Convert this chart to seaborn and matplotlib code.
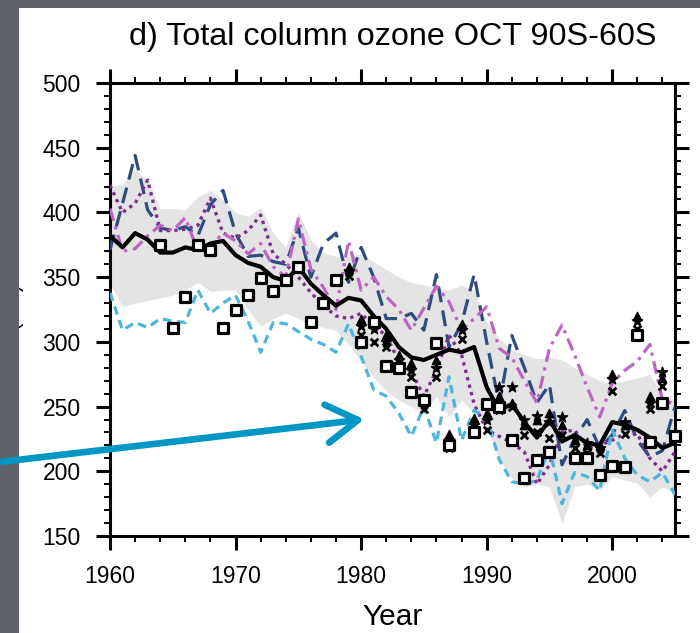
import numpy as np
import pandas as pd
import matplotlib
matplotlib.use("Agg")
import matplotlib.pyplot as plt
import seaborn as sns
from matplotlib.patches import Rectangle, FancyArrowPatch
from matplotlib.ticker import MultipleLocator

# ---------------- data ----------------
years = list(range(1960, 2006))

mean_line = [382, 373, 384, 379, 369, 369, 373, 371, 376, 378,
             367, 361, 358, 350, 347, 358, 345, 336, 328, 334,
             332, 320, 310, 296, 288, 286, 290, 294, 292, 296,
             265, 247, 252, 238, 226, 240, 223, 228, 222, 220,
             238, 236, 232, 226, 218, 222]

band_upper = [420, 422, 433, 425, 403, 403, 402, 412, 417, 410,
              400, 397, 404, 384, 373, 400, 379, 369, 366, 366,
              368, 362, 356, 350, 346, 344, 342, 340, 344, 340,
              315, 303, 294, 290, 287, 288, 286, 280, 275, 270,
              268, 270, 272, 275, 258, 255]

band_lower = [345, 327, 330, 332, 334, 336, 340, 346, 339, 340,
              340, 325, 312, 318, 322, 318, 314, 311, 309, 298,
              285, 273, 262, 255, 250, 245, 258, 242, 255, 245,
              234, 209, 195, 188, 190, 188, 160, 188, 190, 186,
              196, 193, 191, 180, 188, 183]

model_navy = [371, 407, 444, 402, 388, 386, 389, 382, 406, 417,
              384, 366, 367, 362, 360, 388, 350, 376, 384, 346,
              373, 350, 318, 318, 322, 309, 352, 296, 314, 352,
              300, 252, 305, 280, 253, 267, 205, 225, 240, 218,
              228, 247, 224, 211, 216, 250]

model_purple = [421, 400, 407, 425, 386, 386, 387, 390, 411, 384,
                380, 386, 398, 368, 360, 350, 338, 328, 320, 318,
                322, 312, 305, 285, 277, 258, 278, 305, 290, 252,
                232, 227, 222, 215, 190, 205, 230, 232, 218, 220,
                224, 229, 229, 210, 200, 215]

model_orchid = [403, 370, 372, 382, 390, 386, 396, 370, 374, 384,
                378, 368, 376, 358, 350, 395, 356, 342, 325, 378,
                340, 350, 335, 325, 309, 326, 343, 331, 309, 318,
                327, 295, 288, 270, 253, 295, 313, 290, 265, 242,
                268, 278, 285, 298, 255, 252]

model_sky = [338, 309, 315, 311, 318, 316, 315, 340, 322, 330,
             336, 316, 292, 315, 314, 308, 302, 298, 292, 314,
             289, 263, 258, 245, 227, 250, 222, 273, 224, 247,
             242, 209, 192, 190, 193, 218, 175, 199, 196, 185,
             232, 210, 197, 192, 199, 182]

obs_sq_years = [1964, 1965, 1966, 1967, 1968, 1969, 1970, 1971, 1972, 1973,
                1974, 1975, 1976, 1977, 1978, 1980, 1981, 1982, 1983, 1984,
                1985, 1986, 1987, 1989, 1990, 1991, 1992, 1993, 1994, 1995,
                1997, 1998, 1999, 2000, 2001, 2002, 2003, 2004, 2005]
obs_sq = [375, 311, 335, 375, 371, 311, 325, 336, 349, 339,
          348, 358, 315, 330, 348, 300, 315, 281, 280, 261,
          255, 299, 220, 230, 252, 250, 224, 195, 209, 215,
          210, 210, 197, 204, 203, 305, 223, 253, 227]

obs_m_years = list(range(1979, 2005))
obs_tri = [358, 318, 318, 305, 290, 284, 257, 286, 229, 314,
           241, 245, 258, 253, 236, 240, 245, 236, 224, 220,
           220, 275, 236, 320, 258, 272]
obs_star = [355, 312, 310, 300, 286, 278, 252, 280, 224, 309,
            236, 240, 265, 265, 240, 243, 238, 242, 226, 222,
            218, 271, 238, 316, 253, 277]
obs_x = [351, 305, 300, 296, 282, 273, 248, 273, 218, 302,
         231, 232, 247, 250, 228, 230, 226, 228, 218, 214,
         214, 262, 229, 310, 248, 266]

# ---------------- figure ----------------
sns.set_style("ticks")
plt.rcParams['font.family'] = ['Liberation Sans', 'DejaVu Sans']
plt.rcParams['text.color'] = 'black'
plt.rcParams['xtick.color'] = 'black'
plt.rcParams['ytick.color'] = 'black'
plt.rcParams['xtick.labelcolor'] = 'black'
plt.rcParams['ytick.labelcolor'] = 'black'

W, H = 700, 633
fig = plt.figure(figsize=(W / 100, H / 100), dpi=100)
ax = fig.add_axes([110 / W, 1 - 536 / H, 565 / W, 453 / H])
ax.set_facecolor("white")

ax.fill_between(years, band_lower, band_upper, color="#e4e4e4", lw=0, zorder=1)

sns.lineplot(x=years, y=model_navy, ax=ax, color="#2e4c7e", lw=2.3,
             linestyle=(0, (5.0, 2.6)), zorder=3)
sns.lineplot(x=years, y=model_purple, ax=ax, color="#7e2f8e", lw=2.4,
             linestyle=(0, (1.0, 1.3)), zorder=3)
sns.lineplot(x=years, y=model_orchid, ax=ax, color="#c064c4", lw=2.3,
             linestyle=(0, (4.0, 1.8, 1.0, 1.8)), zorder=3)
sns.lineplot(x=years, y=model_sky, ax=ax, color="#4eb5dd", lw=2.3,
             linestyle=(0, (2.7, 1.8)), zorder=3)
sns.lineplot(x=years, y=mean_line, ax=ax, color="black", lw=3.0, zorder=4)

# observations
sns.scatterplot(x=obs_m_years, y=obs_x, ax=ax, marker="x", s=30, color="black",
                linewidth=2.0, zorder=5)
sns.scatterplot(x=obs_m_years, y=obs_star, ax=ax, marker="*", s=60, color="black",
                edgecolor="black", linewidth=1.0, zorder=5)
sns.scatterplot(x=obs_m_years, y=obs_tri, ax=ax, marker="^", s=36, color="black",
                edgecolor="black", linewidth=1.0, zorder=5)
sns.scatterplot(x=obs_sq_years, y=obs_sq, ax=ax, marker="s", s=46, color="white",
                edgecolor="black", linewidth=2.3, zorder=6, clip_on=False)

ax.set_xlim(1960, 2005)
ax.set_ylim(150, 500)
ax.xaxis.set_major_locator(MultipleLocator(10))
ax.xaxis.set_minor_locator(MultipleLocator(2))
ax.yaxis.set_major_locator(MultipleLocator(50))
ax.yaxis.set_minor_locator(MultipleLocator(10))

for s in ax.spines.values():
    s.set_linewidth(2.2)
    s.set_color("black")
    s.set_visible(True)

ax.tick_params(which="both", direction="out", top=True, right=True,
               labeltop=False, labelright=False, color="black",
               labelcolor="black")
ax.tick_params(which="major", length=10, width=2.2, labelsize=16.5)
ax.tick_params(which="minor", length=4.5, width=1.4)
ax.tick_params(axis="y", which="major", pad=11)
ax.tick_params(axis="x", which="major", pad=11)
ax.set_xlabel("")
ax.set_ylabel("")

fig.text(392.5 / W, 1 - 45 / H, "d) Total column ozone OCT 90S-60S",
         ha="center", va="baseline", fontsize=23.3, color="black")
fig.text(392.5 / W, 1 - 625 / H, "Year", ha="center", va="baseline",
         fontsize=21.5, color="black")
fig.text(12 / W, 1 - 305 / H, "(DU)", rotation=90, ha="center", va="center",
         fontsize=16, color="black", zorder=1)

# dark presentation frame (left and top)
fig.add_artist(Rectangle((0, 0), 19 / W, 1, transform=fig.transFigure,
                         facecolor="#5f636b", edgecolor="none", zorder=8))
fig.add_artist(Rectangle((0, 1 - 8 / H), 1, 8 / H, transform=fig.transFigure,
                         facecolor="#5f636b", edgecolor="none", zorder=8))

# annotation arrow
arrow = FancyArrowPatch((0 / W, 1 - 462 / H), (367 / W, 1 - 419 / H),
                        transform=fig.transFigure,
                        arrowstyle="->,head_length=0.9,head_width=0.55",
                        mutation_scale=25, lw=4.8, color="#0097c4",
                        capstyle="round", joinstyle="round", zorder=10)
fig.add_artist(arrow)

fig.savefig("out.png", dpi=100, facecolor="white")
